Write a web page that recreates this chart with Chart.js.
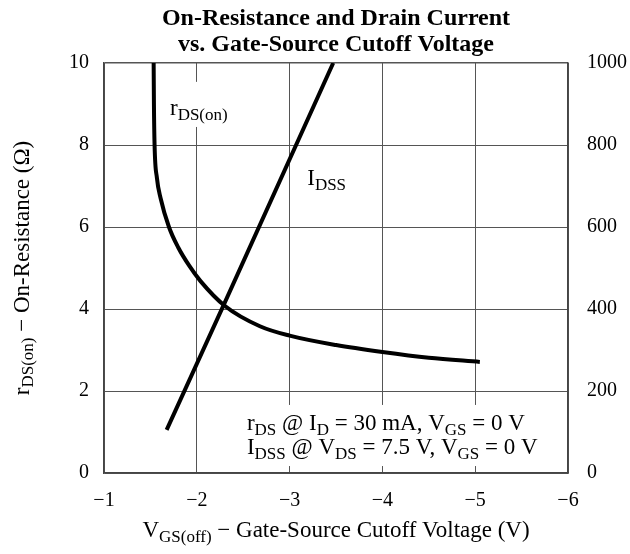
<!DOCTYPE html>
<html lang="en">
<head>
  <meta charset="UTF-8">
  <title>On-Resistance and Drain Current vs. Gate-Source Cutoff Voltage</title>
  <script src="https://cdn.jsdelivr.net/npm/chart.js"></script>
  <style>
    html, body { margin: 0; padding: 0; background: #fff; }
    .chart-container { width: 630px; height: 554px; position: relative; }
  </style>
</head>
<body>
<div class="chart-container">
  <canvas id="vgsChart"></canvas>
</div>

<script>
  // rDS(on) curve (left axis, ohms) against VGS(off) in volts
  const rdsVgs = [-1.535, -1.538, -1.545, -1.57, -1.61, -1.70, -1.80, -1.92, -2.04, -2.30, -2.68, -3.00, -3.50, -4.00, -4.50, -5.05];
  const rdsOhm = [10, 9.0, 8.0, 7.2, 6.7, 6.0, 5.5, 5.05, 4.68, 4.08, 3.58, 3.35, 3.12, 2.95, 2.81, 2.71];

  // IDSS line (right axis, mA)
  const idssVgs = [-1.675, -2.30, -3.47];
  const idssMa = [105, 415, 1000];

  // tick values
  const xTicks = [-1, -2, -3, -4, -5, -6];
  const leftTicks = [0, 2, 4, 6, 8, 10];
  const rightTicks = [0, 200, 400, 600, 800, 1000];

  const SERIF = '"Liberation Serif", "Times New Roman", serif';

  // text runs: [text, isSubscript]
  function drawRich(ctx, runs, x, y, size, align) {
    const sub = Math.round(size * 0.74);
    let w = 0;
    runs.forEach(r => {
      ctx.font = (r[1] ? sub : size) + 'px ' + SERIF;
      w += ctx.measureText(r[0]).width;
    });
    let cx = align === 'center' ? x - w / 2 : x;
    ctx.textBaseline = 'alphabetic';
    ctx.textAlign = 'left';
    runs.forEach(r => {
      ctx.font = (r[1] ? sub : size) + 'px ' + SERIF;
      ctx.fillText(r[0], cx, r[1] ? y + size * 0.2 : y);
      cx += ctx.measureText(r[0]).width;
    });
  }

  const notesPlugin = {
    id: 'notes',
    beforeDatasetsDraw(chart) {
      const ctx = chart.ctx;
      const xs = chart.scales.x, ys = chart.scales.y;
      const px = v => xs.getPixelForValue(v);
      const py = v => ys.getPixelForValue(v);
      ctx.save();
      // white frames that break the grid behind the labels
      ctx.fillStyle = '#fff';
      [[-1.66, 9.54, -2.40, 8.44], [-2.47, 1.66, -5.75, 0.17]].forEach(b => {
        ctx.fillRect(px(b[0]), py(b[1]), px(b[2]) - px(b[0]), py(b[3]) - py(b[1]));
      });
      ctx.fillStyle = '#000';
      drawRich(ctx, [['r', false], ['DS(on)', true]], px(-1.711), py(8.73), 23, 'left');
      drawRich(ctx, [['I', false], ['DSS', true]], px(-3.19), py(7.02), 23, 'left');
      drawRich(ctx, [['r', false], ['DS', true], [' @ I', false], ['D', true], [' = 30 mA, V', false], ['GS', true], [' = 0 V', false]], px(-2.54), py(1.05), 23, 'left');
      drawRich(ctx, [['I', false], ['DSS', true], [' @ V', false], ['DS', true], [' = 7.5 V, V', false], ['GS', true], [' = 0 V', false]], px(-2.54), py(0.46), 23, 'left');
      ctx.restore();
    },
    afterDraw(chart) {
      const ctx = chart.ctx;
      const a = chart.chartArea;
      const mid = (a.left + a.right) / 2;
      ctx.save();
      ctx.fillStyle = '#000';
      // title
      ctx.font = 'bold 24px ' + SERIF;
      ctx.textAlign = 'center';
      ctx.textBaseline = 'alphabetic';
      ctx.fillText('On-Resistance and Drain Current', mid, 25);
      ctx.fillText('vs. Gate-Source Cutoff Voltage', mid, 51);
      // x axis title
      drawRich(ctx, [['V', false], ['GS(off)', true], [' \u2212 Gate-Source Cutoff Voltage (V)', false]], mid, 537, 23, 'center');
      // y axis title
      ctx.translate(28.5, (a.top + a.bottom) / 2);
      ctx.rotate(-Math.PI / 2);
      drawRich(ctx, [['r', false], ['DS(on)', true], [' \u2212 On-Resistance (\u03A9)', false]], 0, 0, 23, 'center');
      ctx.restore();
    }
  };

  const ctx = document.getElementById('vgsChart').getContext('2d');
  new Chart(ctx, {
    type: 'scatter',
    data: {
      datasets: [{
        label: 'rDS(on)',
        data: rdsVgs.map((v, i) => ({ x: v, y: rdsOhm[i] })),
        yAxisID: 'y',
        showLine: true,
        borderColor: '#000',
        borderWidth: 4,
        pointRadius: 0,
        cubicInterpolationMode: 'monotone'
      }, {
        label: 'IDSS',
        data: idssVgs.map((v, i) => ({ x: v, y: idssMa[i] })),
        yAxisID: 'y1',
        showLine: true,
        borderColor: '#000',
        borderWidth: 4,
        pointRadius: 0,
        tension: 0
      }]
    },
    options: {
      responsive: true,
      maintainAspectRatio: false,
      animation: false,
      layout: { padding: { top: 63, left: 0, right: 0, bottom: 0 } },
      plugins: {
        legend: { display: false },
        tooltip: { enabled: false }
      },
      scales: {
        x: {
          type: 'linear',
          min: -6,
          max: -1,
          reverse: true,
          afterBuildTicks: s => { s.ticks = xTicks.map(v => ({ value: v })); },
          afterFit: s => { s.height = 81; },
          grid: { color: '#555', lineWidth: 1, drawTicks: false },
          border: { color: '#444', width: 1.5 },
          ticks: {
            padding: 16,
            color: '#000',
            font: { family: SERIF, size: 20 },
            callback: v => (v < 0 ? '\u2212' + Math.abs(v) : String(v))
          }
        },
        y: {
          type: 'linear',
          position: 'left',
          min: 0,
          max: 10,
          afterBuildTicks: s => { s.ticks = leftTicks.map(v => ({ value: v })); },
          afterFit: s => { s.width = 104; },
          grid: {
            color: '#555',
            lineWidth: c => (c.tick && c.tick.value === 10 ? 1.5 : 1),
            drawTicks: false
          },
          border: { color: '#444', width: 1.5 },
          ticks: { padding: 15, color: '#000', font: { family: SERIF, size: 20 }, callback: v => String(v) }
        },
        y1: {
          type: 'linear',
          position: 'right',
          min: 0,
          max: 1000,
          afterBuildTicks: s => { s.ticks = rightTicks.map(v => ({ value: v })); },
          afterFit: s => { s.width = 62; },
          grid: { display: false, drawTicks: false },
          border: { color: '#444', width: 1.5 },
          ticks: { padding: 19, color: '#000', font: { family: SERIF, size: 20 }, callback: v => String(v) }
        }
      }
    },
    plugins: [notesPlugin]
  });
</script>
</body>
</html>
